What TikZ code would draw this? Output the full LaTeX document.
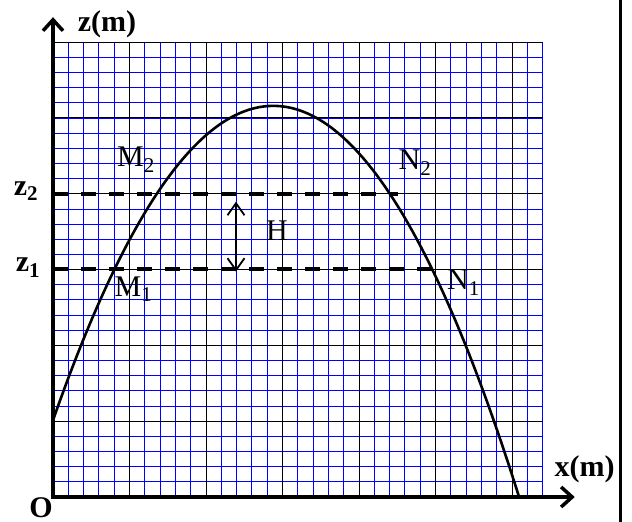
\documentclass[tikz,border=0pt]{standalone}
\usepackage{fontspec}
\setmainfont{Liberation Serif}
\usetikzlibrary{arrows.meta}
\begin{document}
\begin{tikzpicture}[x=76.5pt,y=75.8pt,
  minorgrid/.style={blue,line width=0.9pt},
  majorgrid/.style={black,line width=1pt},
  axisline/.style={line width=3.5pt,line join=miter,{Straight Barb[length=11pt,width=20pt]}-{Straight Barb[length=11pt,width=20pt]}},
  levelline/.style={line width=4pt,dash pattern=on 15pt off 13pt},
  curveline/.style={line width=2.6pt},
  harrow/.style={line width=1.8pt,{Straight Barb[length=12pt,width=17pt]}-{Straight Barb[length=12pt,width=17pt]}},
  lbl/.style={font=\fontsize{30}{36}\selectfont,inner sep=0pt,anchor=base},
  blbl/.style={lbl,font=\fontsize{30}{36}\selectfont\bfseries}]
\useasboundingbox (-0.6928,-0.3298) rectangle (7.5686,6.5567);
% grid
\foreach \i in {1,...,32} {\draw[minorgrid] (\i*0.2,0) -- (\i*0.2,6);}
\foreach \j in {1,...,29} {\draw[minorgrid] (0,\j*0.2) -- (6.4,\j*0.2);}
\foreach \i in {1,...,6} {\draw[majorgrid] (\i,0) -- (\i,6);}
\foreach \j in {1,...,6} {\draw[majorgrid] (0,\j) -- (6.4,\j);}
% curve
\draw[curveline,domain=0:6.09,samples=120,smooth] plot (\x,{5.16-0.5*(\x-2.88)*(\x-2.88)});
% level lines
\coordinate (z2a) at (0,4);
\coordinate (z2b) at (4.51,4);
\coordinate (z1a) at (0,3.01);
\coordinate (z1b) at (4.967,3.01);
\draw[levelline] (z2a) -- (z2b);
\draw[levelline] (z1a) -- (z1b);
% H arrow
\coordinate (Htop) at (2.392,3.896);
\coordinate (Hbot) at (2.392,2.972);
\draw[harrow] (Htop) -- (Hbot);
% axes
\coordinate (O) at (0,0);
\coordinate (xend) at (6.82,0);
\coordinate (zend) at (0,6.33);
\draw[axisline] (xend) -- (O) -- (zend);
% right border
\coordinate (rb1) at (7.412,-0.3298);
\coordinate (rb2) at (7.412,6.5567);
\draw[line width=3pt] (rb1) -- (rb2);
% labels
\node[blbl] (zlab) at (0.706,6.135) {z(m)};
\node[blbl] (xlab) at (6.949,0.264) {x(m)};
\node[blbl] (olab) at (-0.157,-0.275) {O};
\node[blbl] (z2lab) at (-0.353,3.984) {z\textsubscript{2}};
\node[blbl] (z1lab) at (-0.327,2.97) {z\textsubscript{1}};
\node[lbl] (M2) at (1.085,4.354) {M\textsubscript{2}};
\node[lbl] (M1) at (1.052,2.643) {M\textsubscript{1}};
\node[lbl] (N2) at (4.732,4.314) {N\textsubscript{2}};
\node[lbl] (N1) at (5.366,2.731) {N\textsubscript{1}};
\node[lbl] (H) at (2.928,3.39) {H};
\end{tikzpicture}
\end{document}
